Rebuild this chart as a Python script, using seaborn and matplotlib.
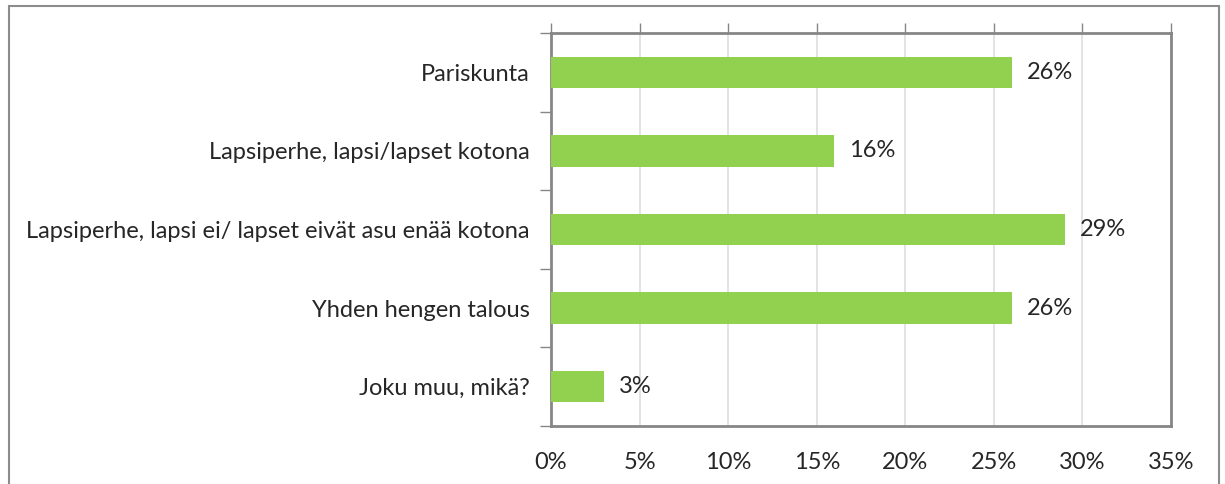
import matplotlib
matplotlib.use("Agg")
import matplotlib.pyplot as plt
import seaborn as sns
import pandas as pd
from matplotlib.patches import Rectangle
from matplotlib.ticker import MultipleLocator, FuncFormatter

# data
categories = ["Pariskunta",
              "Lapsiperhe, lapsi/lapset kotona",
              "Lapsiperhe, lapsi ei/ lapset eivät asu enää kotona",
              "Yhden hengen talous",
              "Joku muu, mikä?"]
shares = [26, 16, 29, 26, 3]

df = pd.DataFrame({"cat": categories, "share": shares})

sns.set_style("white")
plt.rcParams["font.family"] = ["Lato", "DejaVu Sans"]
txt = "#262626"
fs = 17

fig = plt.figure(figsize=(12.25, 4.84), dpi=100)
ax = fig.add_axes([551/1225, 1 - 426/484, (1171-551)/1225, (426-33)/484])

sns.barplot(data=df, x="share", y="cat", color="#92D050", width=0.4,
            saturation=1, linewidth=0, ax=ax, zorder=3)

ax.set_xlim(0, 35)
ax.xaxis.set_major_locator(MultipleLocator(5))
ax.xaxis.set_major_formatter(FuncFormatter(lambda v, p: f"{v:.0f}%"))
ax.grid(axis="x", color="#E0E0E0", linewidth=1.3, zorder=0)
ax.set_xlabel("")
ax.set_ylabel("")

for s in ax.spines.values():
    s.set_color("#868686")
    s.set_linewidth(2)
    s.set_visible(True)

# ticks: x marks on top, labels at bottom; y marks between categories
ax.tick_params(axis="x", which="major", bottom=False, top=True, direction="out",
               length=7, width=1, color="#868686", labelsize=fs, labelcolor=txt, pad=12)
ax.tick_params(axis="y", which="major", left=False, labelsize=fs, labelcolor=txt, pad=12)
ax.set_yticks(range(len(categories)))
ax.set_yticklabels(categories)
ax.set_yticks([i - 0.5 for i in range(len(categories) + 1)], minor=True)
ax.tick_params(axis="y", which="minor", left=True, direction="out", length=8,
               width=1, color="#868686")
ax.set_ylim(len(categories) - 0.5, -0.5)

for i, v in enumerate(shares):
    ax.text(v + 0.85, i, f"{v}%", va="center", ha="left", fontsize=fs, color=txt)

# outer chart border (open at the bottom)
fig.patches.append(Rectangle((8.5/1225, -0.05), (1219-8.5)/1225, 1.05 - 5.5/484,
                             transform=fig.transFigure, fill=False,
                             edgecolor="#8C8C8C", linewidth=1.5))

fig.savefig("out.png", dpi=100)
